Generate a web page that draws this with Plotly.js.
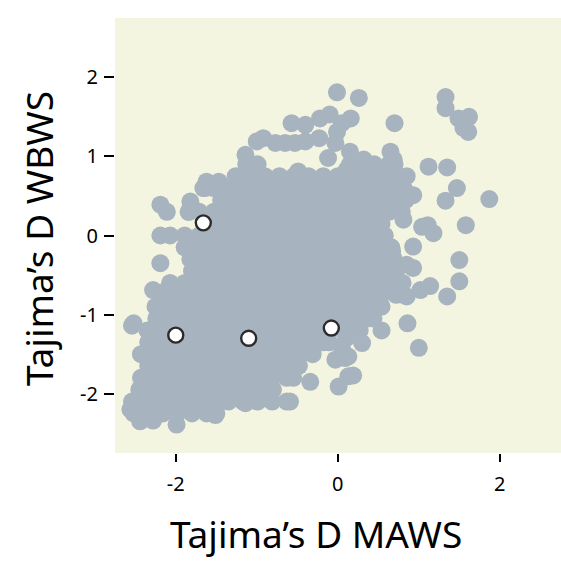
<!DOCTYPE html>
<html>
<head>
<meta charset="utf-8">
<script src="https://cdn.plot.ly/plotly-3.0.1.min.js"></script>
<style>html,body{margin:0;padding:0;background:#fff;}#chart{width:561px;height:561px;}</style>
</head>
<body>
<div id="chart"></div>
<script>
// Dense core of the cloud, read row by row (Tajima's D WBWS level, MAWS values along it)
const blobRowY = [0.90, 0.75, 0.60, 0.45, 0.30, 0.15, 0.00, -0.15, -0.30, -0.45, -0.60, -0.75,
                  -0.90, -1.05, -1.20, -1.35, -1.50, -1.65, -1.80, -1.95, -2.10, -2.25];
const blobRowX = [
  [-1.13,-0.99,0.15,0.27,0.45,0.63,0.70],
  [-1.26,-1.08,-0.90,-0.72,-0.54,-0.36,-0.18,0,0.18,0.36,0.54,0.72,0.85],
  [-1.64,-1.53,-1.35,-1.17,-0.99,-0.81,-0.63,-0.45,-0.27,-0.09,0.09,0.27,0.45,0.63,0.81],
  [-1.44,-1.26,-1.08,-0.90,-0.72,-0.54,-0.36,-0.18,0,0.18,0.36,0.54,0.72,0.84],
  [-1.84,-1.71,-1.53,-1.35,-1.17,-0.99,-0.81,-0.63,-0.45,-0.27,-0.09,0.09,0.27,0.45,0.63,0.79],
  [-1.62,-1.44,-1.26,-1.08,-0.90,-0.72,-0.54,-0.36,-0.18,0,0.18,0.36,0.54],
  [-2.19,-2.07,-1.89,-1.71,-1.53,-1.35,-1.17,-0.99,-0.81,-0.63,-0.45,-0.27,-0.09,0.09,0.27,0.45,0.58],
  [-1.89,-1.80,-1.62,-1.44,-1.26,-1.08,-0.90,-0.72,-0.54,-0.36,-0.18,0,0.18,0.36,0.54,0.66],
  [-1.82,-1.71,-1.53,-1.35,-1.17,-0.99,-0.81,-0.63,-0.45,-0.27,-0.09,0.09,0.27,0.45,0.63,0.69],
  [-1.80,-1.62,-1.44,-1.26,-1.08,-0.90,-0.72,-0.54,-0.36,-0.18,0,0.18,0.36,0.54,0.72],
  [-2.07,-1.89,-1.71,-1.53,-1.35,-1.17,-0.99,-0.81,-0.63,-0.45,-0.27,-0.09,0.09,0.27,0.45,0.63,0.80],
  [-2.16,-1.98,-1.80,-1.62,-1.44,-1.26,-1.08,-0.90,-0.72,-0.54,-0.36,-0.18,0,0.18,0.36,0.54,0.72,0.81],
  [-2.25,-2.07,-1.89,-1.71,-1.53,-1.35,-1.17,-0.99,-0.81,-0.63,-0.45,-0.27,-0.09,0.09,0.27,0.45,0.54],
  [-2.24,-2.16,-1.98,-1.80,-1.62,-1.44,-1.26,-1.08,-0.90,-0.72,-0.54,-0.36,-0.18,0,0.18,0.36,0.44],
  [-2.35,-2.25,-2.07,-1.89,-1.71,-1.53,-1.35,-1.17,-0.99,-0.81,-0.63,-0.45,-0.27,-0.09,0.09,0.27],
  [-2.34,-2.16,-1.98,-1.80,-1.62,-1.44,-1.26,-1.08,-0.90,-0.72,-0.54,-0.36,-0.18,-0.11],
  [-2.43,-2.25,-2.07,-1.89,-1.71,-1.53,-1.35,-1.17,-0.99,-0.81,-0.63,-0.45,-0.31],
  [-2.34,-2.16,-1.98,-1.80,-1.62,-1.44,-1.26,-1.08,-0.90,-0.72,-0.54,-0.48],
  [-2.43,-2.25,-2.07,-1.89,-1.71,-1.53,-1.35,-1.17,-0.99,-0.81,-0.63,-0.55],
  [-2.45,-2.34,-2.16,-1.98,-1.80,-1.62,-1.44,-1.26,-1.08,-0.90,-0.80],
  [-2.54,-2.43,-2.25,-2.07,-1.89,-1.71,-1.53,-1.35,-1.17,-0.99,-0.81,-0.63],
  [-2.52,-2.34,-2.16,-1.98,-1.80,-1.62,-1.50]
];
// Scattered points at the edges of the cloud: [MAWS, WBWS]
const sparsePts = [
  [-0.01,1.81],[0.26,1.74],[0.70,1.42],[0.16,1.48],[0.05,1.42],[-0.10,1.53],[-0.22,1.48],[-0.40,1.40],
  [-0.57,1.42],[-0.23,1.23],[-0.40,1.19],[-0.53,1.17],[-0.65,1.17],[-0.77,1.17],[-0.92,1.23],[-1.00,1.19],
  [-1.14,1.02],[-0.01,1.31],[-0.03,1.17],[-0.12,0.98],[0.15,1.06],[0.32,0.96],[0.65,1.06],[0.69,0.96],
  [0.66,0.87],[-0.49,0.81],[-1.17,0.75],[-1.00,0.83],[0.11,0.83],[0.93,0.51],
  [1.33,1.75],[1.33,1.61],[1.49,1.48],[1.62,1.50],[1.55,1.36],[1.61,1.31],[1.12,0.87],[1.35,0.86],
  [1.47,0.60],[1.33,0.44],[1.87,0.46],[1.58,0.13],[1.50,-0.31],[1.50,-0.58],[1.35,-0.77],[1.04,0.11],
  [1.11,0.13],[1.18,0.03],[0.93,-0.14],[0.81,0.20],[0.91,0.51],[0.79,0.62],[0.77,0.39],[0.85,-0.37],
  [0.93,-0.41],[0.67,-0.20],[1.02,-0.69],[1.14,-0.64],[0.85,-0.77],[0.69,-0.69],[0.86,-1.11],[0.54,-1.20],
  [1.00,-1.42],
  [-2.19,0.39],[-2.11,0.30],[-1.82,0.43],[-1.84,0.30],[-1.66,0.60],[-1.62,0.68],[-1.47,0.68],
  [-2.19,-0.35],[-2.28,-0.69],[-2.11,-0.69],[-2.52,-1.11],[-2.54,-1.14],
  [-2.56,-2.20],[-2.44,-2.35],[-2.28,-2.34],[-1.99,-2.39],[-1.51,-2.27],[-1.14,-2.12],[-0.88,-2.06],
  [-0.59,-2.10],[-0.34,-1.85],[0.01,-1.91],[0.13,-1.78],[0.19,-1.77],[-0.03,-1.57],[0.09,-1.55],
  [0.13,-1.53],[0.05,-1.42],[0.10,-1.30],[0.20,-1.25],[0.30,-1.36]
];
// Highlighted loci
const markedX = [-1.66, -2.00, -1.10, -0.08];
const markedY = [0.16, -1.26, -1.30, -1.17];

const xTickVals = [-2, 0, 2];
const yTickVals = [-2, -1, 0, 1, 2];
const xTitle = 'Tajima’s D MAWS';
const yTitle = 'Tajima’s D WBWS';

const grayX = [], grayY = [];
blobRowY.forEach((yv, i) => { blobRowX[i].forEach(xv => { grayX.push(xv); grayY.push(yv); }); });
sparsePts.forEach(p => { grayX.push(p[0]); grayY.push(p[1]); });

const FONT = 'Noto Sans, Open Sans, sans-serif';

const traces = [
  {x: grayX, y: grayY, type: 'scatter', mode: 'markers', hoverinfo: 'skip',
   marker: {size: 18, color: '#a7b4bf', line: {width: 0}}},
  {x: markedX, y: markedY, type: 'scatter', mode: 'markers', hoverinfo: 'skip',
   marker: {size: 15, color: '#ffffff', line: {width: 2.4, color: '#2b2b2b'}}}
];

const layout = {
  width: 561, height: 561,
  margin: {l: 115, r: 0, t: 18, b: 108, pad: 0},
  paper_bgcolor: '#ffffff',
  plot_bgcolor: '#f4f5e1',
  showlegend: false,
  font: {family: FONT, color: '#000'},
  xaxis: {
    range: [-2.75, 2.755], tickvals: xTickVals, ticktext: xTickVals.map(String),
    ticks: 'outside', ticklen: 8, tickwidth: 2, tickcolor: '#000',
    showgrid: false, zeroline: false, showline: false,
    tickfont: {size: 20, family: FONT}, ticklabelstandoff: 5
  },
  yaxis: {
    range: [-2.75, 2.75], tickvals: yTickVals, ticktext: yTickVals.map(String),
    ticks: 'outside', ticklen: 10, tickwidth: 2, tickcolor: '#000',
    showgrid: false, zeroline: false, showline: false,
    tickfont: {size: 20, family: FONT}, ticklabelstandoff: 2
  },
  annotations: [
    {text: xTitle, xref: 'paper', yref: 'paper', x: (316 - 115) / 446, y: -(533 - 453) / 435,
     xanchor: 'center', yanchor: 'middle', showarrow: false, font: {size: 37, family: FONT}},
    {text: yTitle, xref: 'paper', yref: 'paper', x: -(115 - 38) / 446, y: (453 - 239) / 435,
     xanchor: 'center', yanchor: 'middle', textangle: -90, showarrow: false, font: {size: 37, family: FONT}}
  ]
};

Plotly.newPlot('chart', traces, layout, {staticPlot: true, displayModeBar: false});
</script>
</body>
</html>
